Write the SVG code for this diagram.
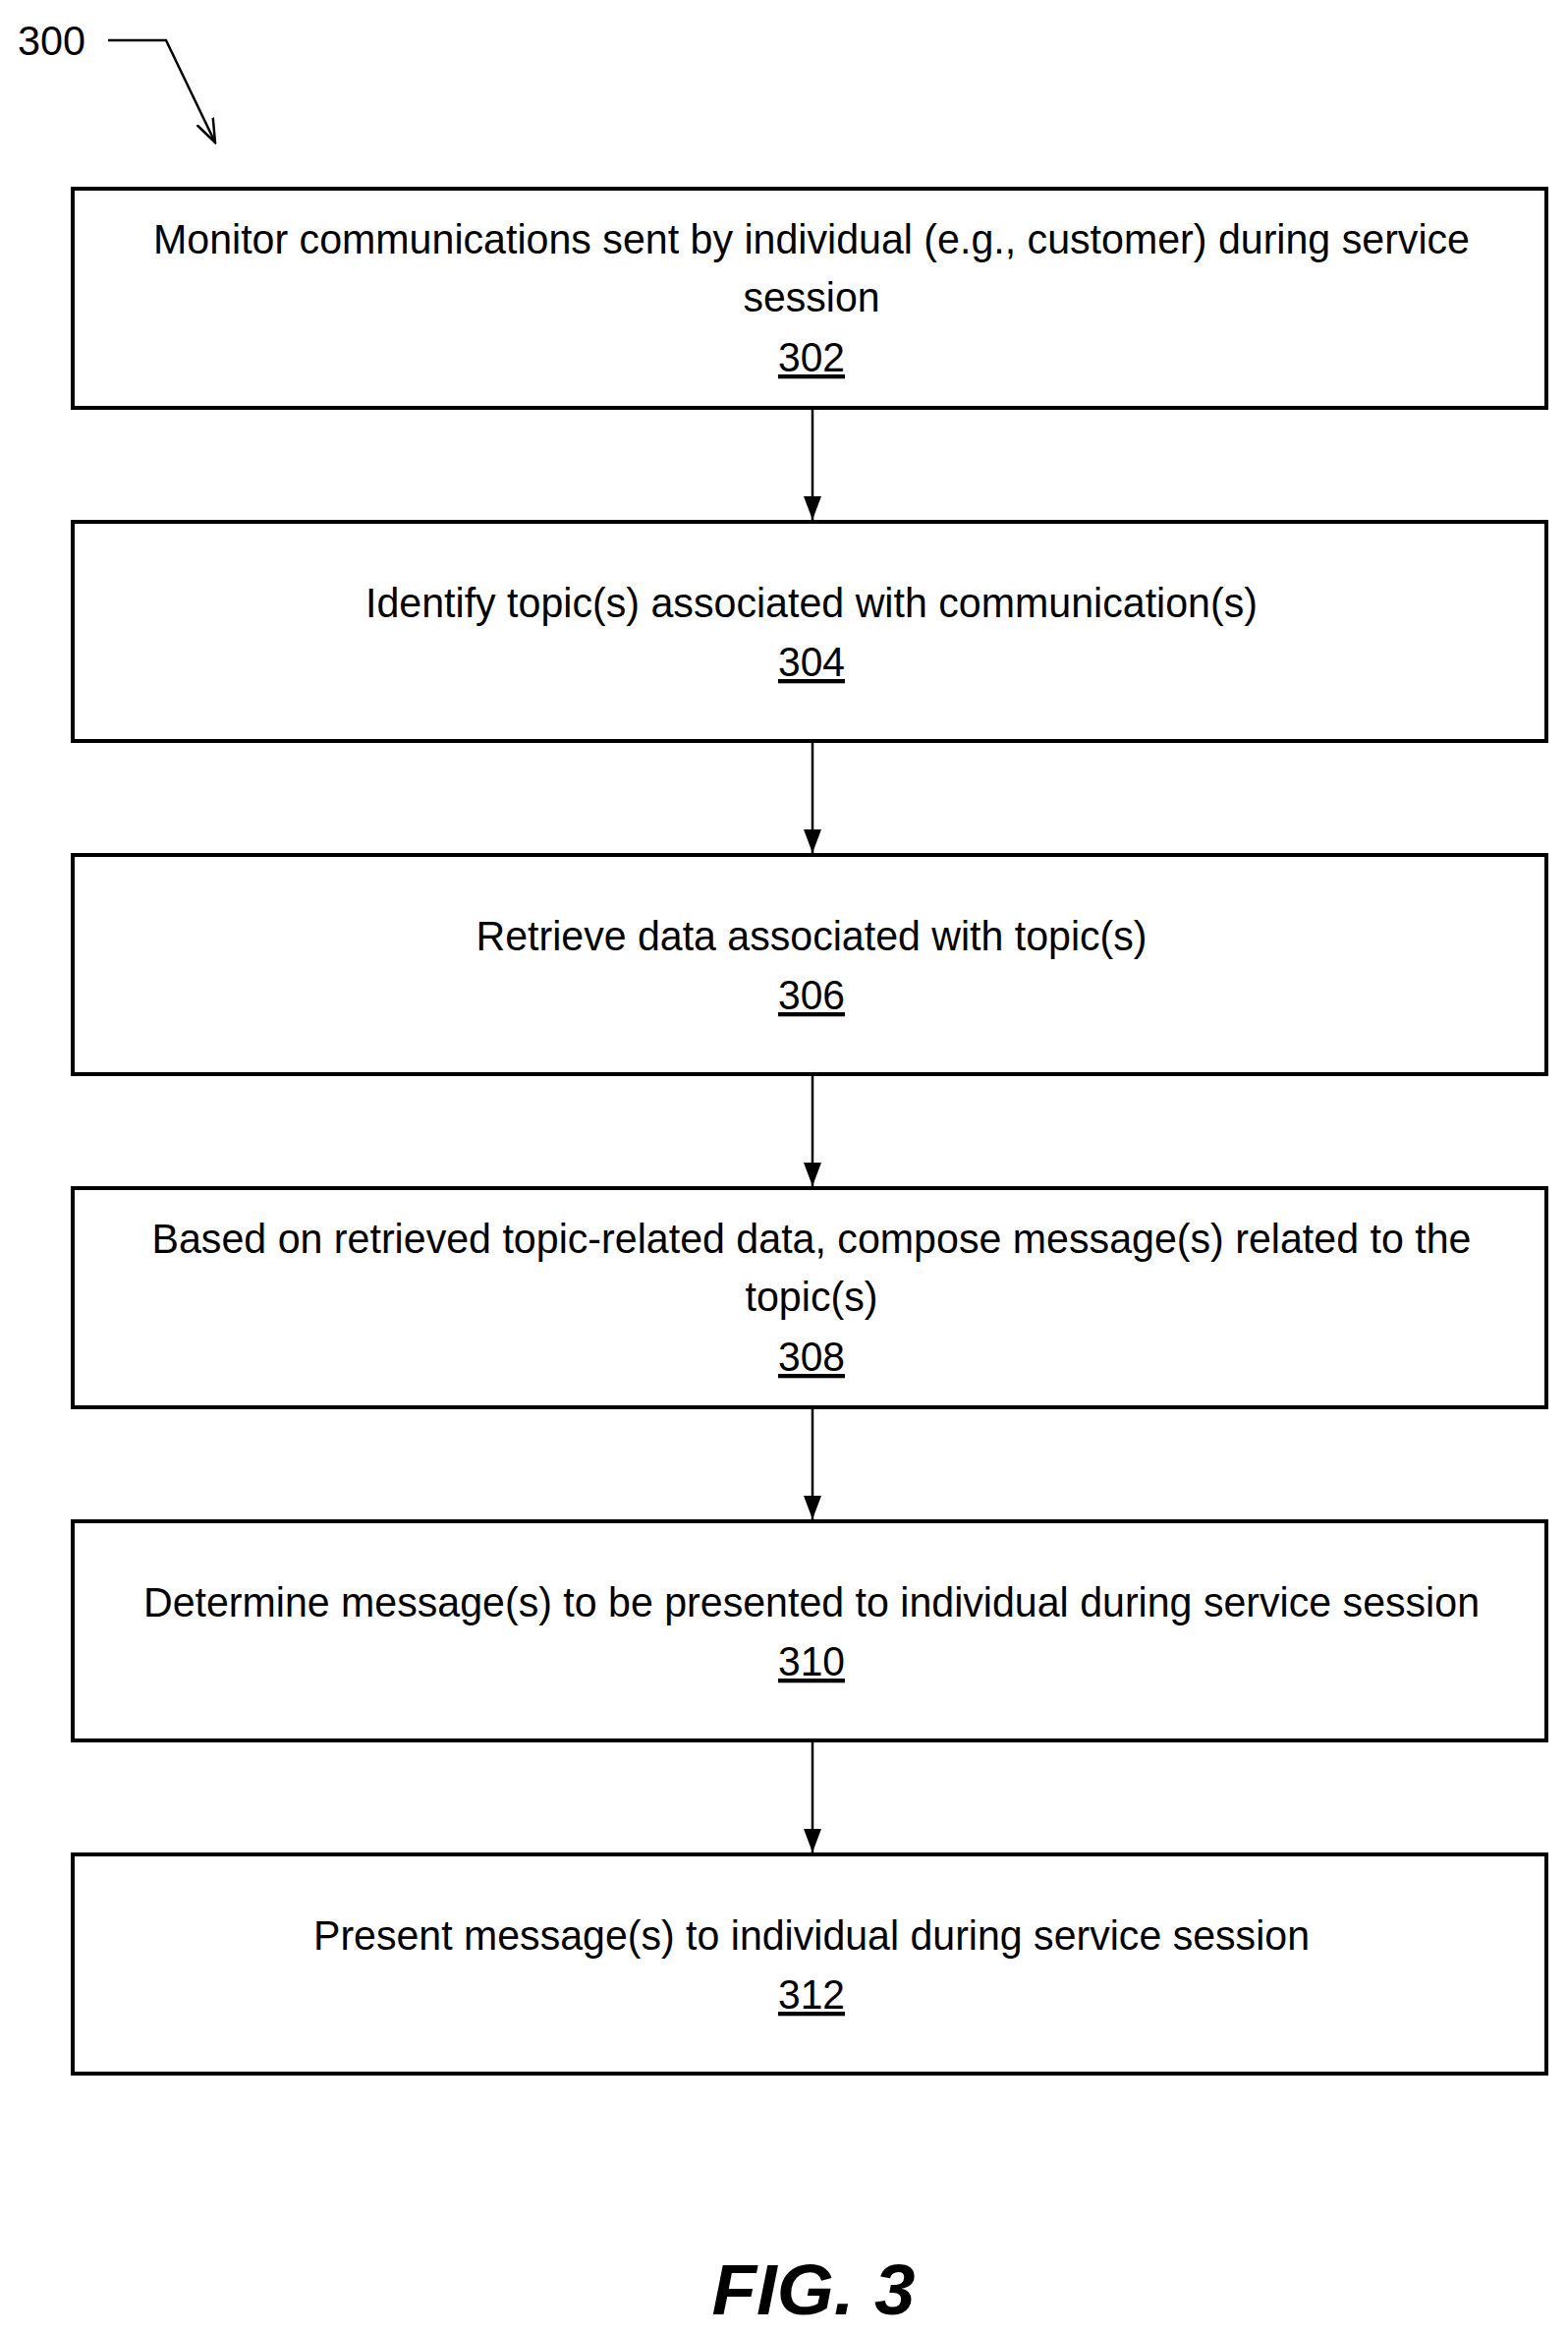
<svg xmlns="http://www.w3.org/2000/svg" width="1596" height="2376" viewBox="0 0 1596 2376">
<style>
.box{fill:#fff;stroke:#000;stroke-width:4}
.t{font-family:"Liberation Sans",Arial,sans-serif;font-size:43px;fill:#000;text-anchor:middle}
.n{text-decoration:underline}
.c{stroke:#000;stroke-width:2.5;fill:none}
</style>
<defs>
<marker id="ah" markerWidth="24" markerHeight="18" refX="24" refY="9" orient="auto" markerUnits="userSpaceOnUse" viewBox="0 0 24 18">
<path d="M0,0 L24,9 L0,18 Z" fill="#000"/>
</marker>
<marker id="oa" markerWidth="26" markerHeight="20" refX="24" refY="10" orient="auto" markerUnits="userSpaceOnUse" viewBox="0 0 26 20">
<path d="M0,1 L24,10 L0,19" fill="none" stroke="#000" stroke-width="2.5"/>
</marker>
</defs>
<g id="label300">
<text x="18" y="56" class="t" style="text-anchor:start" textLength="69" lengthAdjust="spacingAndGlyphs">300</text>
<path class="c" d="M110,41 L169,41 L219,145" marker-end="url(#oa)"/>
</g>
<g id="connectors">
<line class="c" x1="827" y1="417" x2="827" y2="529" marker-end="url(#ah)"/>
<line class="c" x1="827" y1="756" x2="827" y2="868" marker-end="url(#ah)"/>
<line class="c" x1="827" y1="1095" x2="827" y2="1207" marker-end="url(#ah)"/>
<line class="c" x1="827" y1="1434" x2="827" y2="1546" marker-end="url(#ah)"/>
<line class="c" x1="827" y1="1773" x2="827" y2="1885" marker-end="url(#ah)"/>
</g>
<g id="n302">
<rect class="box" x="74" y="192" width="1500" height="223"/>
<text class="t" x="826" y="258" textLength="1340" lengthAdjust="spacingAndGlyphs">Monitor communications sent by individual (e.g., customer) during service</text>
<text class="t" x="826" y="317" textLength="139" lengthAdjust="spacingAndGlyphs">session</text>
<text class="t n" x="826" y="378" textLength="68" lengthAdjust="spacingAndGlyphs">302</text>
</g>
<g id="n304">
<rect class="box" x="74" y="531" width="1500" height="223"/>
<text class="t" x="826" y="628" textLength="908" lengthAdjust="spacingAndGlyphs">Identify topic(s) associated with communication(s)</text>
<text class="t n" x="826" y="688" textLength="68" lengthAdjust="spacingAndGlyphs">304</text>
</g>
<g id="n306">
<rect class="box" x="74" y="870" width="1500" height="223"/>
<text class="t" x="826" y="967" textLength="683" lengthAdjust="spacingAndGlyphs">Retrieve data associated with topic(s)</text>
<text class="t n" x="826" y="1027" textLength="68" lengthAdjust="spacingAndGlyphs">306</text>
</g>
<g id="n308">
<rect class="box" x="74" y="1209" width="1500" height="223"/>
<text class="t" x="826" y="1275" textLength="1343" lengthAdjust="spacingAndGlyphs">Based on retrieved topic-related data, compose message(s) related to the</text>
<text class="t" x="826" y="1334" textLength="135" lengthAdjust="spacingAndGlyphs">topic(s)</text>
<text class="t n" x="826" y="1395" textLength="68" lengthAdjust="spacingAndGlyphs">308</text>
</g>
<g id="n310">
<rect class="box" x="74" y="1548" width="1500" height="223"/>
<text class="t" x="826" y="1645" textLength="1360" lengthAdjust="spacingAndGlyphs">Determine message(s) to be presented to individual during service session</text>
<text class="t n" x="826" y="1705" textLength="68" lengthAdjust="spacingAndGlyphs">310</text>
</g>
<g id="n312">
<rect class="box" x="74" y="1887" width="1500" height="223"/>
<text class="t" x="826" y="1984" textLength="1014" lengthAdjust="spacingAndGlyphs">Present message(s) to individual during service session</text>
<text class="t n" x="826" y="2044" textLength="68" lengthAdjust="spacingAndGlyphs">312</text>
</g>
<g id="fig">
<text x="828" y="2355" class="t" style="font-size:72px;font-weight:bold;font-style:italic" textLength="207" lengthAdjust="spacingAndGlyphs">FIG. 3</text>
</g>
</svg>
